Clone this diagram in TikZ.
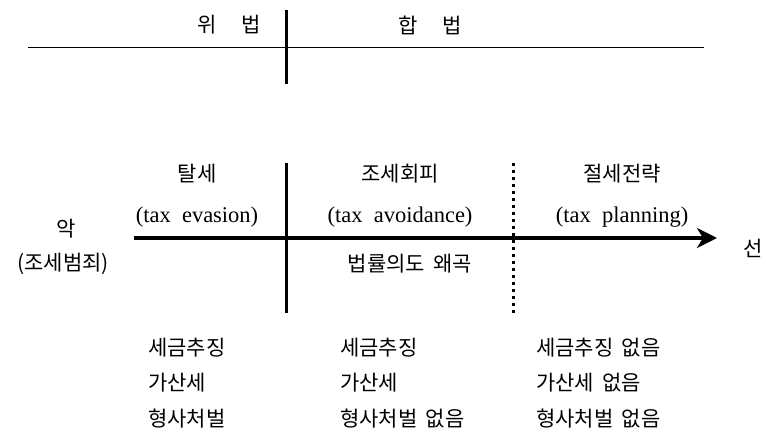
\documentclass[tikz,border=0pt]{standalone}
\usepackage{fontspec}
\setmainfont{Liberation Serif}
\newfontfamily\kr{Noto Sans CJK KR}
\usetikzlibrary{arrows.meta}
\begin{document}
\begin{tikzpicture}[x=1pt,y=-1pt,
  kt/.style={font=\kr\fontsize{21}{23}\selectfont, inner sep=0pt},
  lt/.style={font=\fontsize{22.5}{25}\selectfont, inner sep=0pt},
  ktl/.style={kt, anchor=west}]
\useasboundingbox (0,0) rectangle (766,435);
% top part
\coordinate (tl) at (28,48);
\coordinate (tr) at (704,48);
\coordinate (tvt) at (286,10);
\coordinate (tvb) at (286,84);
\draw[line width=1pt] (tl) -- (tr);
\draw[line width=3pt] (tvt) -- (tvb);
\node[kt] (wibeop) at (229,25) {위\hspace{1.15em}법};
\node[kt] (hapbeop) at (430,25) {합\hspace{1.15em}법};
% middle part
\coordinate (as) at (134,238);
\coordinate (ae) at (717,238);
\coordinate (vt) at (286,163);
\coordinate (vb) at (286,313);
\coordinate (dt) at (513,163);
\coordinate (db) at (513,313);
\draw[line width=3pt] (vt) -- (vb);
\draw[line width=3pt, dash pattern=on 3pt off 4pt] (dt) -- (db);
\draw[line width=4pt, -{Stealth[length=20pt,width=20pt,inset=6pt]}] (as) -- (ae);
\node[kt] (talse) at (197,174) {탈세};
\node[lt] (evasion) at (197,217) {(tax\hspace{0.5em}evasion)};
\node[kt] (josehoepi) at (400,174) {조세회피};
\node[lt] (avoid) at (400,217) {(tax\hspace{0.5em}avoidance)};
\node[kt] (jeolse) at (622,174) {절세전략};
\node[lt] (planning) at (622,217) {(tax\hspace{0.5em}planning)};
\node[kt] (ak) at (66,229) {악};
\node[kt] (crime) at (63,264) {(조세범죄)};
\node[kt] (seon) at (753,248) {선};
\node[kt] (wgok) at (410,264) {법률의도\hspace{0.4em}왜곡};
% bottom lists
\node[ktl] (a1) at (148,348) {세금추징};
\node[ktl] (a2) at (148,383) {가산세};
\node[ktl] (a3) at (148,419) {형사처벌};
\node[ktl] (b1) at (340,348) {세금추징};
\node[ktl] (b2) at (340,383) {가산세};
\node[ktl] (b3) at (340,419) {형사처벌\hspace{0.4em}없음};
\node[ktl] (c1) at (536,348) {세금추징\hspace{0.4em}없음};
\node[ktl] (c2) at (536,383) {가산세\hspace{0.4em}없음};
\node[ktl] (c3) at (536,419) {형사처벌\hspace{0.4em}없음};
\end{tikzpicture}
\end{document}
